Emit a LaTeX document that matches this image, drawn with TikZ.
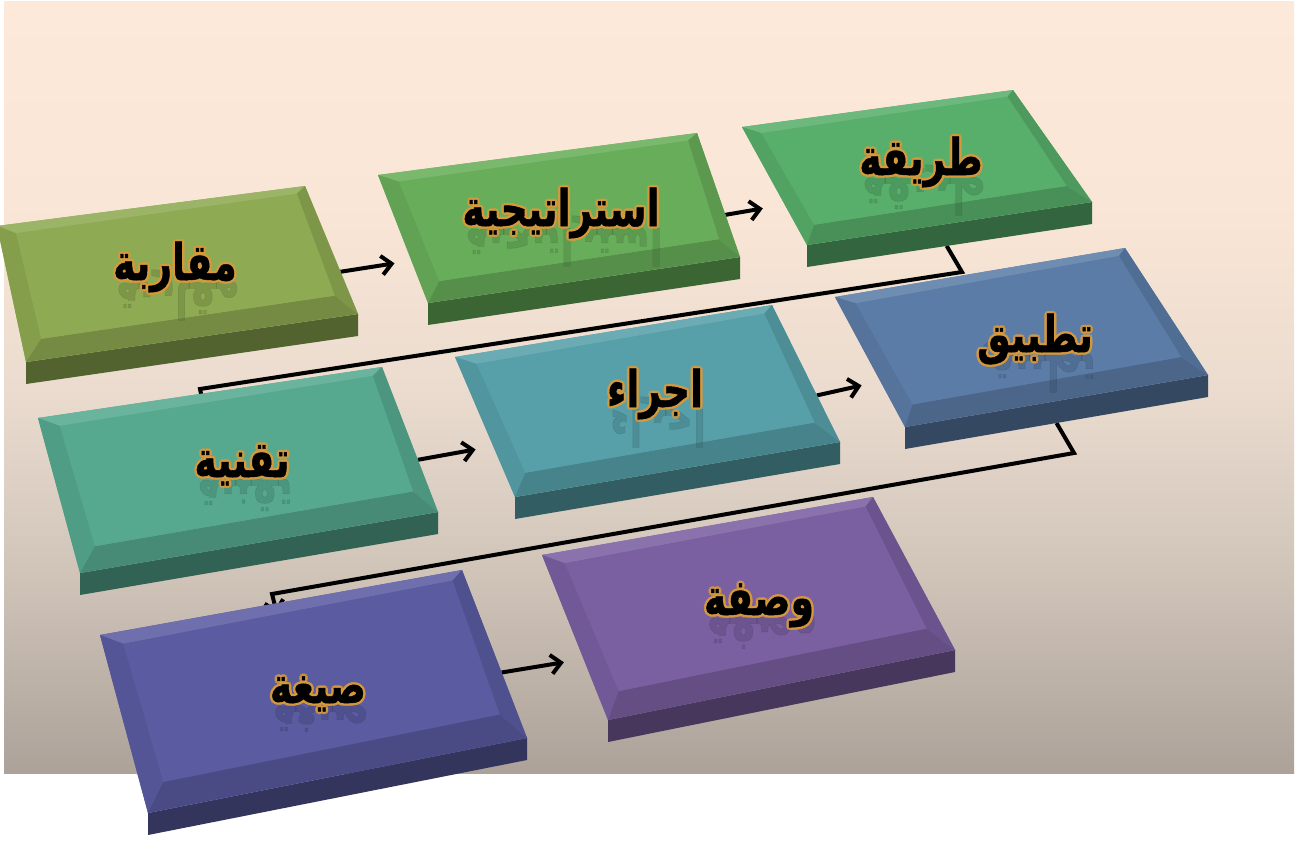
\documentclass[tikz,border=0pt]{standalone}
\usepackage{fontspec}
\usepackage{graphicx}
\usetikzlibrary{calc,arrows.meta}
\newfontfamily\arabicfont[Script=Arabic,FakeBold=1]{DejaVu Sans Bold}
\TeXXeTstate=1

\definecolor{bgtop}{HTML}{FDE9D9}
\definecolor{bgq}{HTML}{FAE6D6}
\definecolor{bgmid}{HTML}{EBDCCF}
\definecolor{bglow}{HTML}{CFC3B8}
\definecolor{bgbot}{HTML}{ACA299}
\definecolor{glow}{HTML}{D89A3C}
\definecolor{cA}{HTML}{8EAA52}
\definecolor{cB}{HTML}{68AE5A}
\definecolor{cC}{HTML}{58AE6B}
\definecolor{cD}{HTML}{56A98F}
\definecolor{cE}{HTML}{57A0AA}
\definecolor{cF}{HTML}{5B7CA7}
\definecolor{cG}{HTML}{5A5BA1}
\definecolor{cH}{HTML}{7A5FA1}

\pgfdeclareverticalshading{backdrop}{100bp}{%
  color(0bp)=(bgbot); color(25bp)=(bgbot); color(37.5bp)=(bglow);
  color(50bp)=(bgmid); color(62bp)=(bgq); color(75bp)=(bgtop); color(100bp)=(bgtop)}

% corners of a slab: top-left, top-right, bottom-right, bottom-left
\newcommand\placebox[5]{%
  \coordinate (#1-a) at (#2);
  \coordinate (#1-b) at (#3);
  \coordinate (#1-c) at (#4);
  \coordinate (#1-d) at (#5);}
% point inside the top face, bilinear in (u,v)
\newcommand\innerpt[4]{%
  \coordinate (#1-t1) at ($(#1-a)!#3!(#1-b)$);
  \coordinate (#1-t2) at ($(#1-d)!#3!(#1-c)$);
  \coordinate (#1-#2) at ($(#1-t1)!#4!(#1-t2)$);}
% bevelled slab with a front face
\newcommand\drawbox[2]{%
  \innerpt{#1}{ia}{0.055}{0.07}
  \innerpt{#1}{ib}{0.965}{0.05}
  \innerpt{#1}{ic}{0.955}{0.84}
  \innerpt{#1}{id}{0.06}{0.85}
  \fill[#2!58!black] (#1-d) -- (#1-c) -- ($(#1-c)+(0,22)$) -- ($(#1-d)+(0,22)$) -- cycle;
  \fill[#2] (#1-a) -- (#1-b) -- (#1-c) -- (#1-d) -- cycle;
  \fill[#2!88!white] (#1-a) -- (#1-b) -- (#1-ib) -- (#1-ia) -- cycle;
  \fill[#2!93!black] (#1-a) -- (#1-ia) -- (#1-id) -- (#1-d) -- cycle;
  \fill[#2!82!black] (#1-d) -- (#1-id) -- (#1-ic) -- (#1-c) -- cycle;
  \fill[#2!88!black] (#1-b) -- (#1-c) -- (#1-ic) -- (#1-ib) -- cycle;
  \fill[#2] (#1-ia) -- (#1-ib) -- (#1-ic) -- (#1-id) -- cycle;}
% tall Arabic word
\newcommand\tallword[1]{\scalebox{1.05}[1.4]{\beginR #1\endR}}
% label with glow and a faded reflection
\newcommand\boxlabel[4]{%
  \begin{scope}[shift={(#2)}]
    \begin{scope}[yscale=-1]
      \node[lbl, transform shape, text=#4, opacity=0.25] at (3,-2) {\tallword{#3}};
    \end{scope}
    \foreach \dx/\dy in {2.5/0,-2.5/0,0/2.5,0/-2.5,1.8/1.8,-1.8/1.8,1.8/-1.8,-1.8/-1.8}
      \node[lbl, text=glow, opacity=0.75] at (\dx,\dy) {\tallword{#3}};
    \node[lbl] (#1) at (0,0) {\tallword{#3}};
  \end{scope}}

\begin{document}
\begin{tikzpicture}[x=1pt,y=-1pt,
  lbl/.style={anchor=base, inner sep=0pt, text=black,
    font=\arabicfont\fontsize{36}{40}\selectfont},
  conn/.style={line width=4pt, line join=miter, draw=black},
  arr/.style={conn, -{Straight Barb[length=10pt,width=19pt,line width=4pt]}}]

\useasboundingbox (0,0) rectangle (1298,841);
\fill[white] (0,0) rectangle (1298,841);
\shade[shading=backdrop] (4,1) rectangle (1294,773);

% slab corners
\placebox{b1}{-3,226}{305,186}{358,314}{26,362}
\placebox{b2}{378,175}{697,133}{740,257}{428,303}
\placebox{b3}{742,127}{1013,90}{1092,202}{807,245}
\placebox{b4}{38,418}{382,367}{438,512}{80,573}
\placebox{b5}{455,357}{772,305}{840,442}{515,497}
\placebox{b6}{835,297}{1125,248}{1208,375}{905,427}
\placebox{b7}{100,635}{462,570}{527,738}{148,813}
\placebox{b8}{542,555}{873,497}{955,650}{608,720}

% connector end points
\coordinate (s12) at ($(b1-b)!0.67!(b1-c)$);
\coordinate (t12) at ($(b2-a)!0.69!(b2-d)+(-18,0)$);
\coordinate (s23) at ($(b2-b)!0.66!(b2-c)$);
\coordinate (t23) at ($(b3-a)!0.69!(b3-d)+(-24,0)$);
\coordinate (s45) at ($(b4-b)!0.64!(b4-c)$);
\coordinate (t45) at ($(b5-a)!0.66!(b5-d)+(-19,0)$);
\coordinate (s56) at ($(b5-b)!0.66!(b5-c)$);
\coordinate (t56) at ($(b6-a)!0.68!(b6-d)+(-21,0)$);
\coordinate (s78) at ($(b7-b)!0.61!(b7-c)$);
\coordinate (t78) at ($(b8-a)!0.65!(b8-d)+(-21,0)$);
\coordinate (s34) at ($(b3-d)!0.49!(b3-c)+(0,22)$);
\coordinate (k34a) at (962,272);
\coordinate (k34b) at (200,389);
\coordinate (t34) at (205,412);
\coordinate (s67) at ($(b6-d)!0.5!(b6-c)+(0,22)$);
\coordinate (k67a) at (1074,453);
\coordinate (k67b) at (272,594);
\coordinate (t67) at (277,614);

% connectors
\draw[arr] (s12) -- (t12);
\draw[arr] (s23) -- (t23);
\draw[conn] (s34) -- (k34a) -- (k34b) -- (t34);
\draw[arr] (s45) -- (t45);
\draw[arr] (s56) -- (t56);
\draw[arr] (s67) -- (k67a) -- (k67b) -- (t67);
\draw[arr] (s78) -- (t78);

% slabs
\drawbox{b1}{cA}
\drawbox{b2}{cB}
\drawbox{b3}{cC}
\drawbox{b4}{cD}
\drawbox{b5}{cE}
\drawbox{b6}{cF}
\drawbox{b7}{cG}
\drawbox{b8}{cH}

% labels
\boxlabel{l1}{175,280}{مقاربة}{cA!55!black}
\boxlabel{l2}{561,226}{استراتيجية}{cB!55!black}
\boxlabel{l3}{921,175}{طريقة}{cC!55!black}
\boxlabel{l4}{242,477}{تقنية}{cD!55!black}
\boxlabel{l5}{655,407}{اجراء}{cE!55!black}
\boxlabel{l6}{1035,352}{تطبيق}{cF!55!black}
\boxlabel{l7}{318,703}{صيغة}{cG!55!black}
\boxlabel{l8}{759,615}{وصفة}{cH!55!black}
\end{tikzpicture}
\end{document}
